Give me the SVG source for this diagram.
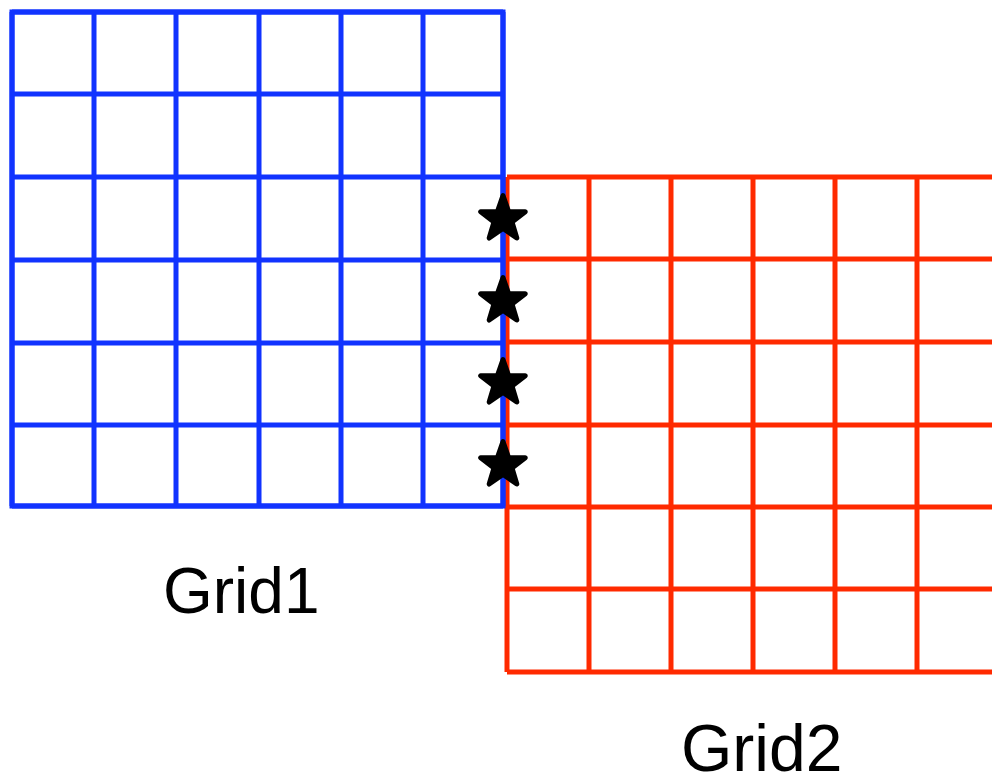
<svg xmlns="http://www.w3.org/2000/svg" width="992" height="780" viewBox="0 0 992 780">
<style>
.blue{stroke:#1133FF;stroke-width:5;fill:none;stroke-linejoin:miter}
.red{stroke:#FF2A00;stroke-width:5;fill:none;stroke-linejoin:miter}
.star{fill:#000;stroke:#000;stroke-width:5;stroke-linejoin:round}
.lbl{font-family:"Liberation Sans",Arial,sans-serif;fill:#000}
</style>
<defs>
<polygon id="star" points="0,-23.5 5.5,-7.6 22.3,-7.3 9,2.9 13.8,19 0,9.4 -13.8,19 -9,2.9 -22.3,-7.3 -5.5,-7.6"/>
</defs>
<g id="grid2">
<path class="red" d="M507,177 H999 M507,259 H999 M507,342 H999 M507,425 H999 M507,507 H999 M507,589 H999 M507,672 H999 M507,177 V672 M589,177 V672 M671,177 V672 M753,177 V672 M835,177 V672 M917,177 V672"/>
</g>
<g id="grid1">
<path class="blue" d="M12,12 H503 M12,94 H503 M12,177 H503 M12,260 H503 M12,343 H503 M12,425 H503 M12,506 H503 M12,12 V506 M94,12 V506 M176,12 V506 M259,12 V506 M341,12 V506 M423,12 V506 M503,12 V506"/>
<rect class="blue" x="12" y="12" width="491" height="494"/>
</g>
<g id="stars">
<use href="#star" class="star" x="503" y="219"/>
<use href="#star" class="star" x="503" y="301"/>
<use href="#star" class="star" x="503" y="383"/>
<use href="#star" class="star" x="503" y="465"/>
</g>
<g id="labels">
<text class="lbl" x="163" y="613" font-size="64">Grid1</text>
<text class="lbl" x="681" y="771" font-size="66">Grid2</text>
</g>
</svg>
